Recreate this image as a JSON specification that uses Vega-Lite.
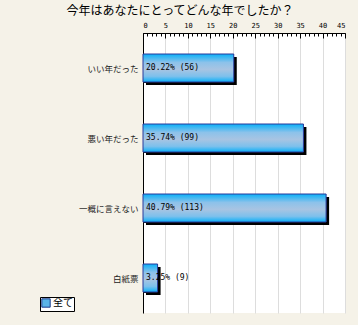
{
  "$schema": "https://vega.github.io/schema/vega-lite/v6.json",
  "width": 202,
  "height": 280,
  "autosize": {"type": "none"},
  "padding": {"left": 143, "top": 33, "right": 13, "bottom": 12},
  "background": "#f5f2e8",
  "title": {
    "text": "今年はあなたにとってどんな年でしたか？",
    "font": "Noto Sans CJK JP",
    "fontSize": 12,
    "fontWeight": "normal",
    "color": "#000",
    "anchor": "middle",
    "frame": "group",
    "dx": -64,
    "offset": 3
  },
  "data": {
    "values": [
      {"answer": "いい年だった", "pct": 20.22, "label": "20.22% (56)", "series": "全て"},
      {"answer": "悪い年だった", "pct": 35.74, "label": "35.74% (99)", "series": "全て"},
      {"answer": "一概に言えない", "pct": 40.79, "label": "40.79% (113)", "series": "全て"},
      {"answer": "白紙票", "pct": 3.25, "label": "3.25% (9)", "series": "全て"}
    ]
  },
  "encoding": {
    "y": {
      "field": "answer",
      "type": "nominal",
      "sort": null,
      "scale": {"paddingInner": 0.6, "paddingOuter": 0.3},
      "axis": {
        "title": null,
        "orient": "left",
        "domainColor": "#000",
        "tickColor": "#000",
        "tickBand": "extent",
        "tickSize": -4,
        "labelPadding": 9,
        "labelFont": "Noto Sans CJK JP",
        "labelFontSize": 8.5,
        "labelColor": "#222"
      }
    }
  },
  "layer": [
    {
      "mark": {"type": "bar", "color": "#000", "xOffset": 3, "x2Offset": 3, "yOffset": 3, "y2Offset": 3},
      "encoding": {
        "x": {
          "field": "pct",
          "type": "quantitative",
          "scale": {"domain": [0, 45], "nice": false},
          "axis": {
            "orient": "top",
            "title": null,
            "values": [0, 5, 10, 15, 20, 25, 30, 35, 40, 45],
            "grid": true,
            "gridColor": "#dddddd",
            "domainColor": "#000",
            "tickColor": "#000",
            "tickSize": -5,
            "labelPadding": 10,
            "labelFont": "DejaVu Sans Mono",
            "labelFontSize": 7,
            "labelColor": "#000"
          }
        }
      }
    },
    {
      "mark": {"type": "bar"},
      "encoding": {
        "x": {"field": "pct", "type": "quantitative", "axis": null},
        "color": {
          "field": "series",
          "type": "nominal",
          "scale": {"range": ["#5ab4e6"]},
          "legend": {
            "title": null,
            "orient": "none",
            "legendX": -103,
            "legendY": 264,
            "strokeColor": "#000",
            "fillColor": "#fff",
            "padding": 1,
            "symbolType": "square",
            "symbolSize": 70,
            "symbolStrokeColor": "#1a3a8a",
            "symbolStrokeWidth": 1,
            "symbolFillColor": "#5ab4e6",
            "labelFont": "Noto Sans CJK JP",
            "labelFontSize": 10,
            "labelColor": "#000",
            "labelOffset": 2
          }
        }
      }
    },
    {
      "mark": {
        "type": "bar",
        "stroke": "#2a3a9a",
        "strokeWidth": 1,
        "fill": {
          "gradient": "linear",
          "x1": 0, "y1": 0, "x2": 0, "y2": 1,
          "stops": [
            {"offset": 0, "color": "#08b0f8"},
            {"offset": 0.3, "color": "#8cc2ea"},
            {"offset": 0.55, "color": "#a8c4e2"},
            {"offset": 0.8, "color": "#7cc0ec"},
            {"offset": 1, "color": "#08b0f8"}
          ]
        }
      },
      "encoding": {
        "x": {"field": "pct", "type": "quantitative", "axis": null}
      }
    },
    {
      "mark": {"type": "text", "align": "left", "baseline": "middle", "dx": 3, "font": "DejaVu Sans Mono", "fontSize": 8, "color": "#000"},
      "encoding": {
        "x": {"datum": 0, "type": "quantitative", "axis": null},
        "text": {"field": "label"}
      }
    },
    {
      "mark": {"type": "rule", "opacity": 0},
      "encoding": {
        "x": {
          "datum": 0,
          "type": "quantitative",
          "axis": {
            "orient": "top",
            "title": null,
            "values": [0,1,2,3,4,5,6,7,8,9,10,11,12,13,14,15,16,17,18,19,20,21,22,23,24,25,26,27,28,29,30,31,32,33,34,35,36,37,38,39,40,41,42,43,44,45],
            "labels": false,
            "grid": false,
            "domain": false,
            "tickColor": "#000",
            "tickSize": -3
          }
        }
      }
    }
  ],
  "resolve": {"axis": {"x": "independent"}},
  "config": {
    "view": {"fill": "#ffffff", "stroke": null}
  }
}
